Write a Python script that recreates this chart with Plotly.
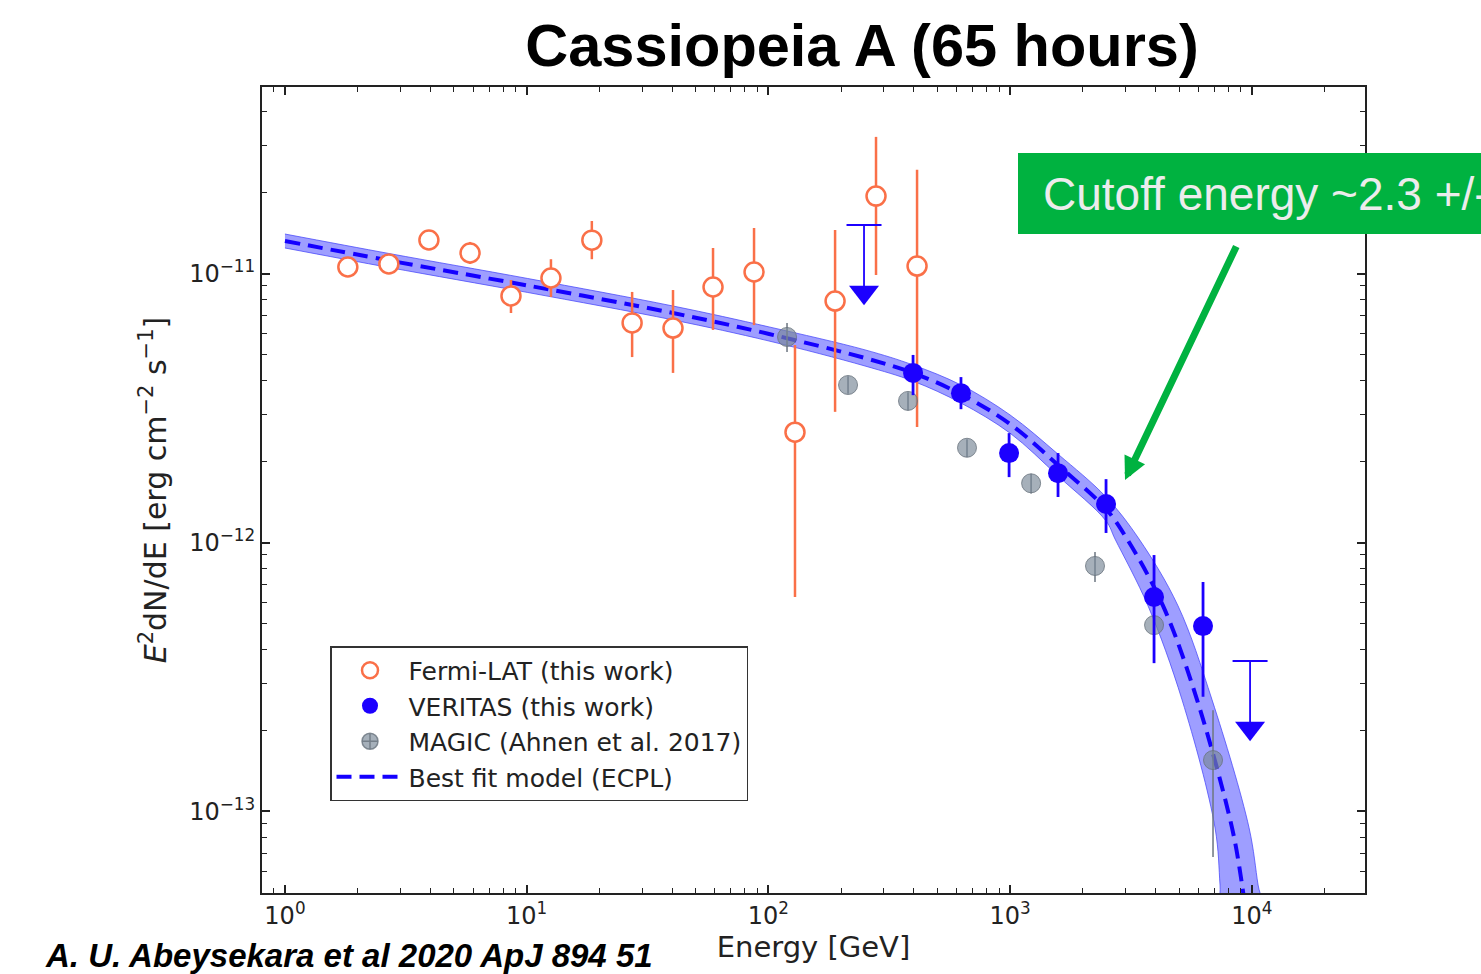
import plotly.graph_objects as go

# ---------------- data (energy in GeV, E^2 dN/dE in erg cm^-2 s^-1) ----------------
fermi_energy = [1.82, 2.69, 3.94, 5.83, 8.61, 12.6, 18.6, 27.3, 40.3, 59.0, 87.2, 128.8, 188.7, 278.7, 412.0]
fermi_flux = [1.057e-11, 1.085e-11, 1.332e-11, 1.192e-11, 8.25e-12, 9.62e-12, 1.33e-11, 6.55e-12,
              6.27e-12, 8.91e-12, 1.013e-11, 2.57e-12, 7.90e-12, 1.94e-11, 1.066e-11]
fermi_flux_hi = [1.057e-11, 1.085e-11, 1.332e-11, 1.31e-11, 9.46e-12, 1.13e-11, 1.567e-11, 8.54e-12,
                 8.68e-12, 1.244e-11, 1.476e-11, 5.42e-12, 1.451e-11, 3.22e-11, 2.43e-11]
fermi_flux_lo = [1.057e-11, 1.085e-11, 1.332e-11, 1.085e-11, 7.13e-12, 8.18e-12, 1.13e-11, 4.89e-12,
                 4.27e-12, 6.17e-12, 6.43e-12, 6.27e-13, 3.06e-12, 9.87e-12, 2.69e-12]

veritas_energy = [396.6, 626.0, 990.0, 1578.0, 2493.0, 3938.0, 6280.0]
veritas_flux = [4.27e-12, 3.59e-12, 2.15e-12, 1.81e-12, 1.39e-12, 6.27e-13, 4.89e-13]
veritas_flux_hi = [4.98e-12, 4.12e-12, 2.55e-12, 2.15e-12, 1.72e-12, 8.98e-13, 7.13e-13]
veritas_flux_lo = [3.53e-12, 3.13e-12, 1.75e-12, 1.476e-12, 1.085e-12, 3.56e-13, 2.67e-13]

veritas_ul_energy = [248.6, 9830.0]
veritas_ul_flux = [1.515e-11, 3.63e-13]

magic_energy = [119.4, 213.5, 378.0, 663.0, 1221.0, 2244.0, 3938.0, 6907.0]
magic_flux = [5.81e-12, 3.85e-12, 3.36e-12, 2.25e-12, 1.66e-12, 8.18e-13, 4.93e-13, 1.553e-13]
magic_flux_hi = [6.55e-12, 4.15e-12, 3.62e-12, 2.42e-12, 1.80e-12, 9.21e-13, 5.5e-13, 2.38e-13]
magic_flux_lo = [5.11e-12, 3.57e-12, 3.10e-12, 2.08e-12, 1.52e-12, 7.13e-13, 4.4e-13, 6.78e-14]

# best-fit ECPL model and its uncertainty band
model_energy = [1.0, 2.69, 10.1, 40.3, 100.6, 251.0, 396.6, 626.0, 999.0, 1578.0, 2493.0,
                3046.0, 4292.0, 5933.0, 8279.0, 9110.0, 9460.0]
model_flux = [1.321e-11, 1.118e-11, 9.02e-12, 7.13e-12, 5.96e-12, 4.85e-12, 4.27e-12, 3.56e-12,
              2.757e-12, 1.94e-12, 1.332e-12, 1.03e-12, 5.81e-13, 2.60e-13, 8.69e-14, 5.33e-14, 4.12e-14]

band_upper_energy = [1.0, 2.69, 10.1, 40.3, 100.6, 251.0, 396.6, 626.0, 999.0, 1578.0, 2493.0,
                     3415.0, 4950.0, 6843.0, 9737.0, 10610.0, 11130.0]
band_upper_flux = [1.402e-11, 1.187e-11, 9.58e-12, 7.57e-12, 6.33e-12, 5.20e-12, 4.57e-12, 3.85e-12,
                   2.98e-12, 2.13e-12, 1.476e-12, 1.03e-12, 5.81e-13, 2.60e-13, 8.69e-14, 5.33e-14, 4.12e-14]
band_lower_energy = [1.0, 2.69, 10.1, 40.3, 100.6, 251.0, 396.6, 626.0, 999.0, 1578.0, 2493.0,
                     2716.0, 3720.0, 5143.0, 7042.0, 7386.0, 7529.0]
band_lower_flux = [1.244e-11, 1.053e-11, 8.50e-12, 6.72e-12, 5.61e-12, 4.53e-12, 3.98e-12, 3.30e-12,
                   2.55e-12, 1.767e-12, 1.202e-12, 1.03e-12, 5.81e-13, 2.60e-13, 8.69e-14, 5.33e-14, 4.12e-14]

x_tick_values = [1, 10, 100, 1000, 10000]
x_tick_labels = ["10<sup>0</sup>", "10<sup>1</sup>", "10<sup>2</sup>", "10<sup>3</sup>", "10<sup>4</sup>"]
y_tick_values = [1e-13, 1e-12, 1e-11]
y_tick_labels = ["10<sup>\u221213</sup>", "10<sup>\u221212</sup>", "10<sup>\u221211</sup>"]

# ---------------- styling ----------------
W, H = 1481, 974
ML, MR, MT, MB = 262, 116, 87, 81
FERMI = "rgb(250,112,72)"
VERITAS = "rgb(28,0,255)"
MAGIC_FILL = "rgba(120,135,150,0.66)"
MAGIC_EDGE = "rgba(105,115,125,0.8)"
GREEN = "rgb(0,178,64)"
AXIS_FONT = "DejaVu Sans"


def err_plus(v, hi):
    return [h - x for x, h in zip(v, hi)]


def err_minus(v, lo):
    return [x - l for x, l in zip(v, lo)]


def px_x(p):
    return (p - ML) / (W - ML - MR)


def px_y(p):
    return (H - MB - p) / (H - MT - MB)


fig = go.Figure()

# uncertainty band of the model
fig.add_trace(go.Scatter(
    x=band_upper_energy + band_lower_energy[::-1],
    y=band_upper_flux + band_lower_flux[::-1],
    fill="toself", fillcolor="rgba(40,40,255,0.45)",
    line=dict(color="rgba(70,70,250,0.75)", width=1, shape="spline", smoothing=1.0),
    mode="lines", showlegend=False, hoverinfo="skip",
))

# best-fit model
fig.add_trace(go.Scatter(
    x=model_energy, y=model_flux, mode="lines",
    line=dict(color="rgb(20,0,255)", width=4, dash="15px,8px", shape="spline", smoothing=1.0),
    name="Best fit model (ECPL)", legendrank=4, legendgroup="d",
))

# Fermi-LAT points
fig.add_trace(go.Scatter(
    x=fermi_energy, y=fermi_flux, mode="markers",
    marker=dict(symbol="circle", size=19, color="white", line=dict(color=FERMI, width=2.5)),
    error_y=dict(type="data", symmetric=False, array=err_plus(fermi_flux, fermi_flux_hi),
                 arrayminus=err_minus(fermi_flux, fermi_flux_lo), color=FERMI, thickness=2.5, width=0),
    name="Fermi-LAT (this work)", legendrank=1, legendgroup="a",
))

# MAGIC points
fig.add_trace(go.Scatter(
    x=magic_energy, y=magic_flux, mode="markers",
    marker=dict(symbol="circle", size=19, color=MAGIC_FILL, line=dict(color=MAGIC_EDGE, width=1)),
    error_y=dict(type="data", symmetric=False, array=err_plus(magic_flux, magic_flux_hi),
                 arrayminus=err_minus(magic_flux, magic_flux_lo), color="rgba(110,120,130,0.85)",
                 thickness=1.8, width=0),
    showlegend=False,
))
fig.add_trace(go.Scatter(
    x=[None], y=[None], mode="markers",
    marker=dict(symbol="circle-cross", size=20, color=MAGIC_FILL, line=dict(color=MAGIC_EDGE, width=1.5)),
    name="MAGIC (Ahnen et al. 2017)", legendrank=3, legendgroup="c",
))

# VERITAS points
fig.add_trace(go.Scatter(
    x=veritas_energy, y=veritas_flux, mode="markers",
    marker=dict(symbol="circle", size=20, color=VERITAS, line=dict(width=0)),
    error_y=dict(type="data", symmetric=False, array=err_plus(veritas_flux, veritas_flux_hi),
                 arrayminus=err_minus(veritas_flux, veritas_flux_lo), color=VERITAS, thickness=2.8, width=0),
    name="VERITAS (this work)", legendrank=2, legendgroup="b",
))

# VERITAS upper limits: stem, cap and downward arrow head
ARROW_DROP = 10 ** -0.25
arrow_flux = [f * ARROW_DROP for f in veritas_ul_flux]
for e, f, a in zip(veritas_ul_energy, veritas_ul_flux, arrow_flux):
    fig.add_trace(go.Scatter(
        x=[e, e], y=[f, a], mode="lines",
        line=dict(color=VERITAS, width=1.8), showlegend=False, hoverinfo="skip",
    ))
fig.add_trace(go.Scatter(
    x=veritas_ul_energy, y=veritas_ul_flux, mode="markers",
    marker=dict(symbol="line-ew", size=25, line=dict(color=VERITAS, width=2)),
    showlegend=False, hoverinfo="skip",
))
fig.add_trace(go.Scatter(
    x=veritas_ul_energy, y=arrow_flux, mode="markers",
    marker=dict(symbol="triangle-down", size=26, color=VERITAS, line=dict(width=0)),
    showlegend=False, hoverinfo="skip",
))

axis_common = dict(
    type="log", showgrid=False, zeroline=False,
    showline=True, linecolor="#222", linewidth=2, mirror="ticks",
    ticks="inside", ticklen=8, tickwidth=1.5, tickcolor="#222",
    tickfont=dict(family=AXIS_FONT, size=24, color="#222"),
    minor=dict(ticks="inside", ticklen=5, tickwidth=1.2, tickcolor="#222", dtick="D1", showgrid=False),
)

fig.update_layout(
    width=W, height=H,
    margin=dict(l=ML, r=MR, t=MT, b=MB, pad=0),
    paper_bgcolor="white", plot_bgcolor="white",
    title=dict(text="<b>Cassiopeia A (65 hours)</b>", x=862 / W, xanchor="center",
               y=1 - 45 / H, yanchor="middle", yref="container",
               font=dict(family="Liberation Sans", size=59.5, color="black")),
    xaxis=dict(**axis_common, range=[-0.095, 4.468], tickmode="array",
               tickvals=x_tick_values, ticktext=x_tick_labels,
               title=dict(text="Energy [GeV]", font=dict(family=AXIS_FONT, size=29, color="#222"), standoff=5)),
    yaxis=dict(**axis_common, range=[-13.303, -10.3067], tickmode="array",
               tickvals=y_tick_values, ticktext=y_tick_labels,
               title=dict(text="<i>E</i><sup>2</sup>dN/dE [erg cm<sup>\u22122</sup> s<sup>\u22121</sup>]",
                          font=dict(family=AXIS_FONT, size=30, color="#222"), standoff=14)),
    legend=dict(x=px_x(330), y=px_y(646), xanchor="left", yanchor="top",
                bgcolor="white", bordercolor="#333", borderwidth=1.5,
                font=dict(family=AXIS_FONT, size=25, color="#222"),
                itemwidth=67, tracegroupgap=0, traceorder="grouped"),
    showlegend=True,
)

# cutoff-energy call-out
fig.add_shape(type="rect", xref="paper", yref="paper",
              x0=px_x(1018), x1=px_x(1530), y0=px_y(234), y1=px_y(153),
              fillcolor=GREEN, line=dict(width=0), layer="above")
fig.add_annotation(xref="paper", yref="paper", x=px_x(1041), y=px_y(194),
                   xanchor="left", yanchor="middle", showarrow=False,
                   text="Cutoff energy ~2.3 +/-",
                   font=dict(family="Liberation Sans", size=46, color="rgb(236,236,236)"))
fig.add_annotation(xref="paper", yref="paper", x=px_x(1125), y=px_y(480),
                   ax=1237 - 1125, ay=245 - 480, axref="pixel", ayref="pixel",
                   showarrow=True, arrowhead=2, arrowsize=0.65, arrowwidth=7,
                   arrowcolor=GREEN, text="")

# reference line
fig.add_annotation(xref="paper", yref="paper", x=px_x(43), y=px_y(955),
                   xanchor="left", yanchor="middle", showarrow=False,
                   text="<b><i>A. U. Abeysekara et al 2020 ApJ 894 51</i></b>",
                   font=dict(family="Liberation Sans", size=33, color="black"))

fig.write_html("out.html")
